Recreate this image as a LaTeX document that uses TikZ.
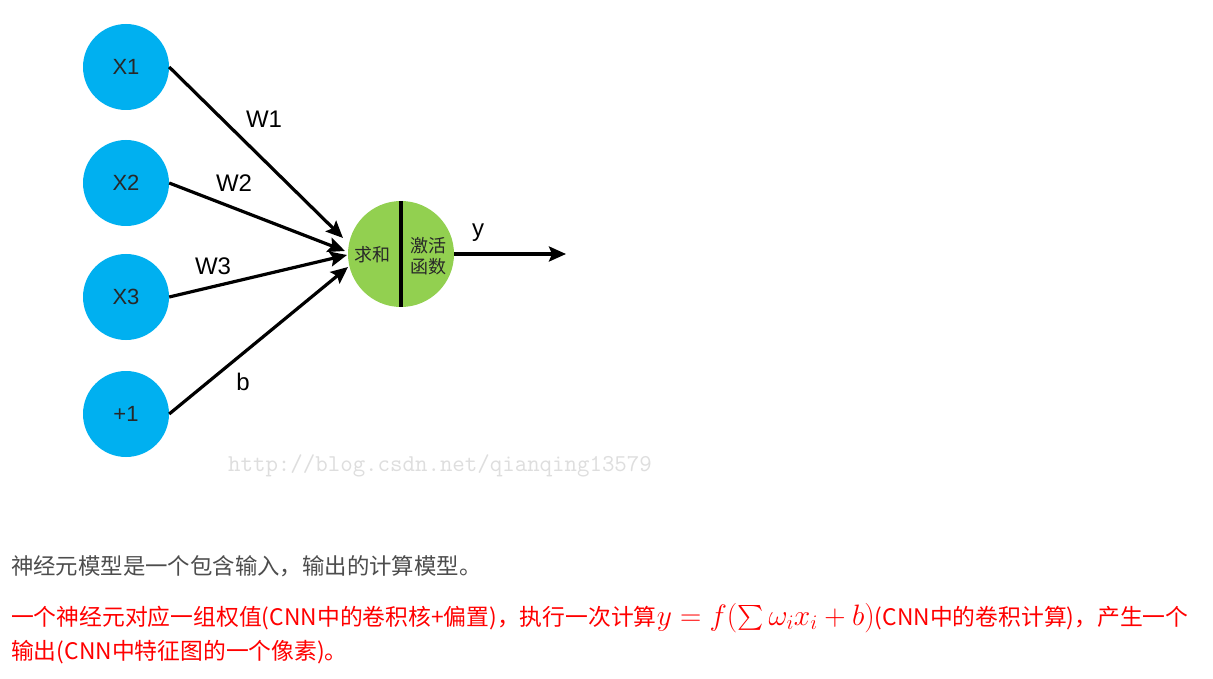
\RequirePackage{fix-cm}
\documentclass[tikz,border=0pt]{standalone}
\usepackage{exscale}
\usepackage{fontspec}
\setmainfont{Liberation Sans}
\newfontfamily\cjk{Noto Sans CJK SC}
\usetikzlibrary{arrows.meta}
\definecolor{nblue}{RGB}{0,176,240}
\definecolor{ngreen}{RGB}{146,208,80}
\definecolor{dtext}{RGB}{40,40,40}
\definecolor{gtext}{RGB}{77,77,77}
\definecolor{rtext}{RGB}{255,0,0}
\newcommand{\bigmath}[1]{{\fontsize{29.5}{30}\selectfont$#1$}}
\begin{document}
\begin{tikzpicture}[x=1pt,y=-1pt,
  inp/.style={circle,fill=nblue,minimum size=86pt,inner sep=0pt,text=dtext,font=\fontsize{22}{22}\selectfont},
  conn/.style={line width=3.2pt,-{Stealth[length=17pt,width=15pt,inset=3pt]}},
  wlab/.style={font=\fontsize{24}{24}\selectfont,text=black},
  gtxt/.style={font=\cjk\fontsize{18}{21}\selectfont,text=dtext,align=center,inner sep=0pt},
  para/.style={anchor=west,inner sep=0pt,font=\cjk\fontsize{22.8}{24}\selectfont}]
\useasboundingbox (0,0) rectangle (1213,679);
\fill[white] (0,0) rectangle (1213,679);
% input nodes
\node[inp] (x1) at (126,67) {X1};
\node[inp] (x2) at (126,183) {X2};
\node[inp] (x3) at (126,297) {X3};
\node[inp] (b1) at (126,414) {+1};
% neuron
\node[circle,fill=ngreen,minimum size=106pt,inner sep=0pt] (sum) at (401,254) {};
\draw[line width=3.2pt] (sum.north) -- (sum.south);
\node[gtxt] (st) at (372,255) {求和};
\node[gtxt] (at) at (428,256) {激活\\函数};
% arrow end points
\coordinate (e1) at (343,238);
\coordinate (e2) at (345,251);
\coordinate (e3) at (347,255);
\coordinate (e4) at (348,267);
\coordinate (out) at (566,254);
\draw[conn] (x1.east) -- (e1);
\draw[conn] (x2.east) -- (e2);
\draw[conn] (x3.east) -- (e3);
\draw[conn] (b1.east) -- (e4);
\draw[conn] (sum.east) -- (out);
% labels
\node[wlab] (w1) at (264,119) {W1};
\node[wlab] (w2) at (234,183) {W2};
\node[wlab] (w3) at (213,266) {W3};
\node[wlab] (bl) at (243,382) {b};
\node[wlab] (yl) at (478,233) {y};
% watermark
\node[font=\ttfamily\fontsize{24.2}{25}\selectfont,text=black!13,inner sep=0pt] (wm) at (440,466) {http://blog.csdn.net/qianqing13579};
% paragraph text
\node[para,text=gtext,font=\cjk\fontsize{22.4}{24}\selectfont] (p1) at (11,566) {神经元模型是一个包含输入，输出的计算模型。};
\node[para,text=rtext] (p2) at (11,618) {一个神经元对应一组权值(CNN中的卷积核+偏置)，执行一次计算\bigmath{y=f(\sum\omega_ix_i+b)}(CNN中的卷积计算)，产生一个};
\node[para,text=rtext] (p3) at (11,652) {输出(CNN中特征图的一个像素)。};
\end{tikzpicture}
\end{document}
